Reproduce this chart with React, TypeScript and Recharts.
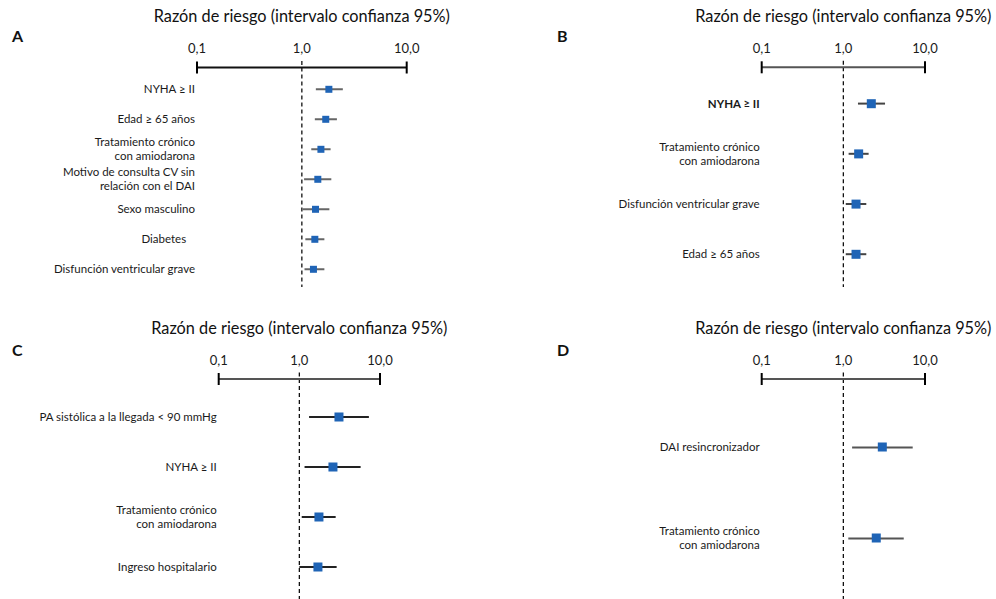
import { ComposedChart, XAxis, YAxis, Bar, Line, ReferenceLine } from 'recharts';

// shared axis
const axisTicks = [0.1, 1, 10];
const axisTickLabels = ['0,1', '1,0', '10,0'];
const axisTitle = 'Razón de riesgo (intervalo confianza 95%)';

// panel A
const labelsA = [
  'NYHA ≥ II',
  'Edad ≥ 65 años',
  'Tratamiento crónico\ncon amiodarona',
  'Motivo de consulta CV sin\nrelación con el DAI',
  'Sexo masculino',
  'Diabetes\u00a0\u00a0\u00a0',
  'Disfunción ventricular grave',
];
const hrA = [1.81, 1.69, 1.52, 1.42, 1.35, 1.33, 1.29];
const lowA = [1.36, 1.33, 1.23, 1.05, 1.02, 1.08, 1.06];
const highA = [2.46, 2.16, 1.88, 1.91, 1.83, 1.64, 1.64];

// panel B
const labelsB = [
  'NYHA ≥ II',
  'Tratamiento crónico\ncon amiodarona',
  'Disfunción ventricular grave',
  'Edad ≥ 65 años',
];
const hrB = [2.2, 1.54, 1.43, 1.43];
const lowB = [1.51, 1.16, 1.07, 1.07];
const highB = [3.24, 2.04, 1.91, 1.91];
const boldB = ['NYHA ≥ II'];

// panel C
const labelsC = [
  'PA sistólica a la llegada < 90 mmHg',
  'NYHA ≥ II',
  'Tratamiento crónico\ncon amiodarona',
  'Ingreso hospitalario',
];
const hrC = [3.1, 2.61, 1.75, 1.7];
const lowC = [1.32, 1.16, 1.07, 1.0];
const highC = [7.28, 5.75, 2.82, 2.9];

// panel D
const labelsD = ['DAI resincronizador', 'Tratamiento crónico\ncon amiodarona'];
const hrD = [3.0, 2.53];
const lowD = [1.28, 1.15];
const highD = [7.07, 5.49];

const BLUE = '#1f64b6';

function buildRows(labels: string[], hr: number[], low: number[], high: number[]) {
  return labels.map((name, i) => ({ name, hr: hr[i], ci: [low[i], high[i]] }));
}

function XTick(props: any) {
  const { x, y, payload } = props;
  const idx = axisTicks.indexOf(payload.value);
  const isEnd = idx === 0 || idx === axisTicks.length - 1;
  return (
    <g>
      {isEnd && <line x1={x} x2={x} y1={y - 6} y2={y + 6} stroke="#000" strokeWidth={2} />}
      {idx === 1 && (
        <line x1={x} x2={x} y1={y - 6.5} y2={y} stroke="#111" strokeWidth={1.3} strokeDasharray="4 3" />
      )}
      <text x={x} y={y - 14.5} textAnchor="middle" fontSize={13} fill="#1a1a1a">
        {axisTickLabels[idx]}
      </text>
    </g>
  );
}

function YTick(props: any) {
  const { x, y, payload, bold } = props;
  const lines = String(payload.value).split('\n');
  const first = y + 4 - (lines.length - 1) * 6.85;
  const isBold = bold && bold.includes(payload.value);
  return (
    <text x={x} y={first} textAnchor="end" fontSize={11.5} fill="#1a1a1a" fontWeight={isBold ? 700 : 400}>
      {lines.map((l, i) => (
        <tspan key={i} x={x} dy={i === 0 ? 0 : 13.7}>
          {l}
        </tspan>
      ))}
    </text>
  );
}

interface PanelProps {
  letter: string;
  left: number;
  top: number;
  width: number;
  height: number;
  data: { name: string; hr: number; ci: number[] }[];
  margin: { top: number; right: number; bottom: number; left: number };
  yWidth: number;
  pad: { top: number; bottom: number };
  titleOffset: number;
  axisColor: string;
  ciColor: string;
  markerSize: number;
  bold?: string[];
  letterTop: number;
  letterLeft: number;
}

function Panel(p: PanelProps) {
  const s = p.markerSize;
  return (
    <>
      <div
        style={{
          position: 'absolute',
          left: p.letterLeft,
          top: p.letterTop,
          fontSize: 16,
          fontWeight: 700,
          lineHeight: '16px',
          color: '#111',
        }}
      >
        {p.letter}
      </div>
      <div style={{ position: 'absolute', left: p.left, top: p.top }}>
        <ComposedChart width={p.width} height={p.height} data={p.data} layout="vertical" margin={p.margin}>
          <XAxis
            type="number"
            orientation="top"
            scale="log"
            domain={[0.1, 10]}
            ticks={axisTicks}
            interval={0}
            allowDataOverflow
            height={40}
            tickSize={0}
            tickMargin={0}
            tickLine={false}
            axisLine={{ stroke: p.axisColor, strokeWidth: 2 }}
            tick={<XTick />}
            label={{ value: axisTitle, position: 'top', offset: p.titleOffset, fontSize: 16.3, fill: '#111' }}
          />
          <YAxis
            type="category"
            dataKey="name"
            width={p.yWidth}
            tickSize={0}
            tickMargin={2}
            tickLine={false}
            axisLine={false}
            interval={0}
            padding={p.pad}
            tick={<YTick bold={p.bold} />}
          />
          <ReferenceLine x={1} stroke="#111" strokeWidth={1.3} strokeDasharray="4 3" />
          <Bar dataKey="ci" barSize={2} fill={p.ciColor} isAnimationActive={false} />
          <Line
            dataKey="hr"
            stroke="none"
            isAnimationActive={false}
            activeDot={false}
            dot={(d: any) => (
              <rect key={d.index} x={d.cx - s / 2} y={d.cy - s / 2} width={s} height={s} fill={BLUE} />
            )}
          />
        </ComposedChart>
      </div>
    </>
  );
}

export default function App() {
  return (
    <div
      style={{
        position: 'absolute',
        left: 0,
        top: 0,
        width: 996,
        height: 599,
        background: '#fff',
        fontFamily: 'Lato, "Open Sans", sans-serif',
        overflow: 'hidden',
      }}
    >
      <Panel
        letter="A"
        left={0}
        top={0}
        width={498}
        height={300}
        data={buildRows(labelsA, hrA, lowA, highA)}
        margin={{ top: 27.5, right: 91.3, bottom: 13, left: 7 }}
        yWidth={190}
        pad={{ top: 6.8, bottom: 2.7 }}
        titleOffset={5.5}
        axisColor="#111"
        ciColor="#666"
        markerSize={7}
        letterLeft={12}
        letterTop={28}
      />
      <Panel
        letter="B"
        left={498}
        top={0}
        width={498}
        height={300}
        data={buildRows(labelsB, hrB, lowB, highB)}
        margin={{ top: 27.3, right: 71, bottom: 13, left: 13.7 }}
        yWidth={250}
        pad={{ top: 11.3, bottom: 7.6 }}
        titleOffset={5.3}
        axisColor="#555"
        ciColor="#444"
        markerSize={9}
        bold={boldB}
        letterLeft={557}
        letterTop={28}
      />
      <Panel
        letter="C"
        left={0}
        top={300}
        width={498}
        height={299}
        data={buildRows(labelsC, hrC, lowC, highC)}
        margin={{ top: 39, right: 118, bottom: 0, left: 8.7 }}
        yWidth={210}
        pad={{ top: 13, bottom: 7 }}
        titleOffset={5}
        axisColor="#555"
        ciColor="#222"
        markerSize={9}
        letterLeft={12}
        letterTop={342}
      />
      <Panel
        letter="D"
        left={498}
        top={300}
        width={498}
        height={299}
        data={buildRows(labelsD, hrD, lowD, highD)}
        margin={{ top: 39, right: 71, bottom: 0, left: 13.7 }}
        yWidth={250}
        pad={{ top: 22.5, bottom: 15.5 }}
        titleOffset={5}
        axisColor="#555"
        ciColor="#555"
        markerSize={9}
        letterLeft={557}
        letterTop={342}
      />
    </div>
  );
}
